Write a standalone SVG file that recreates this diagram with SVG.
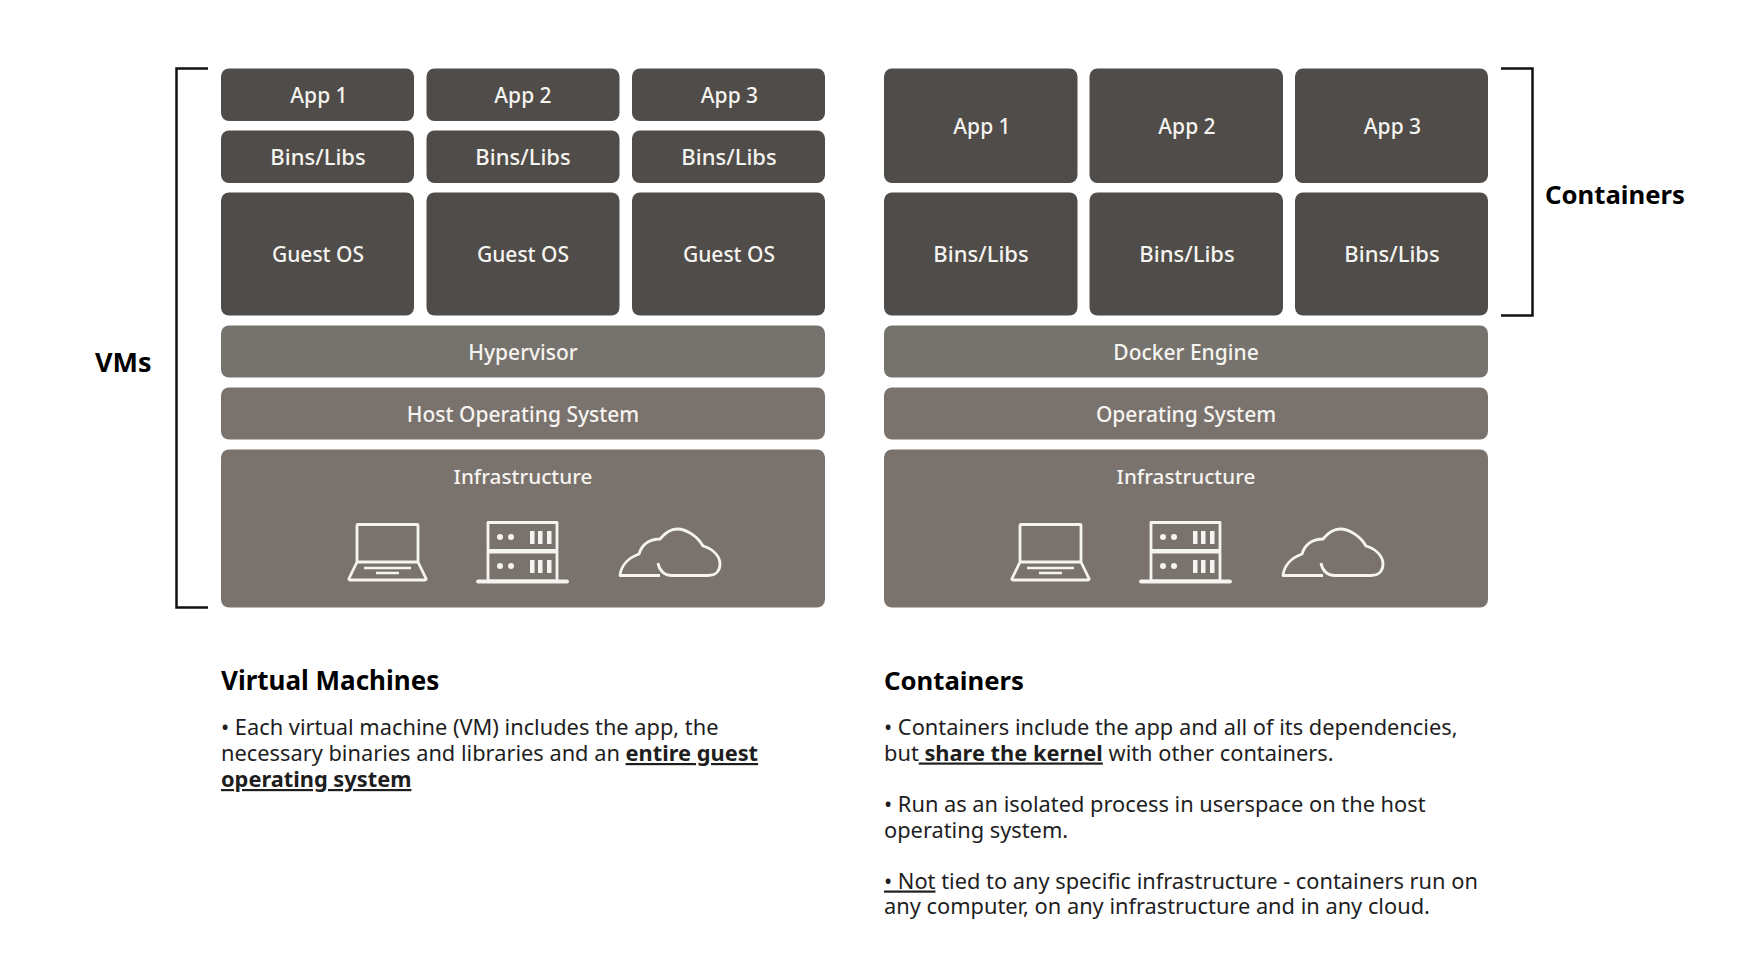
<svg xmlns="http://www.w3.org/2000/svg" width="1750" height="964" viewBox="0 0 1750 964">
<style>
text{font-family:"Noto Sans","Open Sans","Liberation Sans",sans-serif}
.d{fill:#4f4c49}.m{fill:#76726d}.i{fill:#7a726d}
.w{fill:#f6f4f0;font-size:21.500px;font-weight:500;text-anchor:middle}
.a{font-size:21px}.l{font-size:22px}.n{font-size:21px}.f{font-size:20.700px}
.h{fill:#000;font-size:26px;font-weight:700}
.b{fill:#1e1e1e;font-size:21.800px}
.u{font-weight:700;text-decoration:underline}
.br{fill:none;stroke:#111;stroke-width:2.500}
.ic{fill:none;stroke:#f6f4f0;stroke-width:2.800;stroke-linejoin:round}
.if{fill:#f6f4f0}
</style>
<defs>
<g id="icons">
<path class="ic" d="M357 563V525.500a1 1 0 0 1 1-1H417a1 1 0 0 1 1 1V563M357 562L349 578.500a1 1 0 0 0 1 1.500H425a1 1 0 0 0 1-1.500L418 562Z"/>
<path d="M364 568H411M376 573H399" stroke="#f6f4f0" stroke-width="2.400"/>
<rect class="ic" x="488" y="522.500" width="69" height="28"/>
<rect class="ic" x="488" y="552" width="69" height="29"/>
<path d="M478 581.500H567" stroke="#f6f4f0" stroke-width="3.800" stroke-linecap="round"/>
<g class="if"><circle cx="500" cy="537" r="3"/><circle cx="511" cy="537" r="3"/><circle cx="500" cy="566" r="3"/><circle cx="511" cy="566" r="3"/><rect x="530" y="531" width="4.500" height="13"/><rect x="538" y="531" width="4.500" height="13"/><rect x="547" y="531" width="4.500" height="13"/><rect x="530" y="560" width="4.500" height="13"/><rect x="538" y="560" width="4.500" height="13"/><rect x="547" y="560" width="4.500" height="13"/></g>
<path class="ic" d="M660 575.500H620C621 566 628 558 639 554C642 544 650 539 660 539C665 533 671 529 677 529C687 529 698 537 703 546C713 549 720 556 720 564C720 571 716 575.500 708 575.500H672C664 575.500 659 570 658 563"/>
</g>
</defs>
<g id="connectors">
<path class="br" d="M208 68.500H176.500V607.500H208"/>
<path class="br" d="M1501 68.500H1532.500V315.500H1501"/>
</g>
<g id="vm-apps">
<g id="vm-app1"><rect class="d" x="221" y="68.500" width="193" height="52.500" rx="8"/><text class="w a" x="319" y="103">App 1</text></g>
<g id="vm-app2"><rect class="d" x="426.500" y="68.500" width="193" height="52.500" rx="8"/><text class="w a" x="523" y="103">App 2</text></g>
<g id="vm-app3"><rect class="d" x="632" y="68.500" width="193" height="52.500" rx="8"/><text class="w a" x="729.500" y="103">App 3</text></g>
<g id="vm-bins1"><rect class="d" x="221" y="130.500" width="193" height="52.500" rx="8"/><text class="w l" x="318" y="165">Bins/Libs</text></g>
<g id="vm-bins2"><rect class="d" x="426.500" y="130.500" width="193" height="52.500" rx="8"/><text class="w l" x="523" y="165">Bins/Libs</text></g>
<g id="vm-bins3"><rect class="d" x="632" y="130.500" width="193" height="52.500" rx="8"/><text class="w l" x="729" y="165">Bins/Libs</text></g>
<g id="vm-os1"><rect class="d" x="221" y="192.500" width="193" height="123" rx="8"/><text class="w n" x="318" y="262">Guest OS</text></g>
<g id="vm-os2"><rect class="d" x="426.500" y="192.500" width="193" height="123" rx="8"/><text class="w n" x="523" y="262">Guest OS</text></g>
<g id="vm-os3"><rect class="d" x="632" y="192.500" width="193" height="123" rx="8"/><text class="w n" x="729" y="262">Guest OS</text></g>
</g>
<g id="vm-hyper"><rect class="m" x="221" y="325.500" width="604" height="52" rx="8"/><text class="w n" x="523" y="360">Hypervisor</text></g>
<g id="vm-host"><rect class="i" x="221" y="387.500" width="604" height="52" rx="8"/><text class="w n" x="523" y="422">Host Operating System</text></g>
<g id="vm-infra"><rect class="i" x="221" y="449.500" width="604" height="158" rx="8"/><text class="w f" x="523" y="484">Infrastructure</text><use href="#icons"/></g>
<g id="c-apps">
<g id="c-app1"><rect class="d" x="884" y="68.500" width="193.500" height="114.500" rx="8"/><text class="w a" x="982" y="134">App 1</text></g>
<g id="c-app2"><rect class="d" x="1089.500" y="68.500" width="193.500" height="114.500" rx="8"/><text class="w a" x="1187" y="134">App 2</text></g>
<g id="c-app3"><rect class="d" x="1295" y="68.500" width="193" height="114.500" rx="8"/><text class="w a" x="1392.500" y="134">App 3</text></g>
<g id="c-bins1"><rect class="d" x="884" y="192.500" width="193.500" height="123" rx="8"/><text class="w l" x="981" y="262">Bins/Libs</text></g>
<g id="c-bins2"><rect class="d" x="1089.500" y="192.500" width="193.500" height="123" rx="8"/><text class="w l" x="1187" y="262">Bins/Libs</text></g>
<g id="c-bins3"><rect class="d" x="1295" y="192.500" width="193" height="123" rx="8"/><text class="w l" x="1392" y="262">Bins/Libs</text></g>
</g>
<g id="c-docker"><rect class="m" x="884" y="325.500" width="604" height="52" rx="8"/><text class="w n" x="1186" y="360">Docker Engine</text></g>
<g id="c-os"><rect class="i" x="884" y="387.500" width="604" height="52" rx="8"/><text class="w n" x="1186" y="422">Operating System</text></g>
<g id="c-infra"><rect class="i" x="884" y="449.500" width="604" height="158" rx="8"/><text class="w f" x="1186" y="484">Infrastructure</text><use href="#icons" x="663"/></g>
<g id="labels">
<text class="h" x="95" y="372" style="font-size:27px">VMs</text>
<text class="h" x="1545" y="203.500" style="font-size:25.700px">Containers</text>
<text class="h" x="221" y="689.500">Virtual Machines</text>
<text class="h" x="884" y="689.500" style="font-size:25.700px">Containers</text>
</g>
<g id="vm-text">
<text class="b" x="221" y="735">• Each virtual machine (VM) includes the app, the</text>
<text class="b" x="221" y="761">necessary binaries and libraries and an <tspan class="u">entire guest</tspan></text>
<text class="b u" x="221" y="787">operating system</text>
</g>
<g id="c-text">
<text class="b" x="884" y="735">• Containers include the app and all of its dependencies,</text>
<text class="b" x="884" y="760.500">but<tspan class="u"> share the kernel</tspan> with other containers.</text>
<text class="b" x="884" y="811.500">• Run as an isolated process in userspace on the host</text>
<text class="b" x="884" y="837.500">operating system.</text>
<text class="b" x="884" y="888.500"><tspan text-decoration="underline">• Not</tspan> tied to any specific infrastructure - containers run on</text>
<text class="b" x="884" y="913.500">any computer, on any infrastructure and in any cloud.</text>
</g>
</svg>
